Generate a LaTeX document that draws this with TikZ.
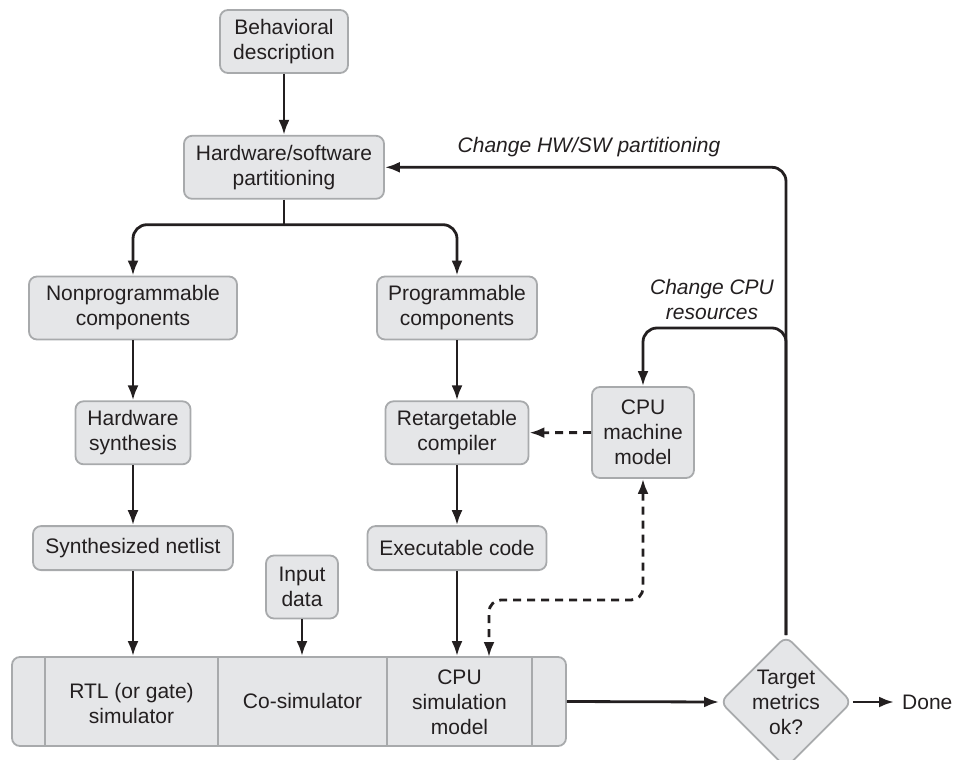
\documentclass[tikz,border=0pt]{standalone}
\usepackage{fontspec}
\setmainfont{Liberation Sans}
\usetikzlibrary{arrows.meta,positioning,shapes.geometric}
\definecolor{boxgray}{RGB}{229,230,232}
\definecolor{edgegray}{RGB}{168,170,172}
\definecolor{inkdark}{RGB}{35,31,32}
\tikzset{
  >={Latex[length=15pt,width=11pt]},
  box/.style={
    rectangle,
    rounded corners=8pt,
    draw=edgegray,
    fill=boxgray,
    line width=1.8pt,
    align=center,
    inner sep=2pt,
    minimum height=63pt,
    text=inkdark,
    font=\fontsize{21}{25}\selectfont
  },
  decision/.style={
    diamond,
    aspect=1,
    rounded corners=8pt,
    draw=edgegray,
    fill=boxgray,
    line width=1.8pt,
    align=center,
    inner sep=-5pt,
    minimum width=132pt,
    minimum height=132pt,
    text=inkdark,
    font=\fontsize{21}{25}\selectfont
  },
  cell/.style={
    align=center,
    text=inkdark,
    font=\fontsize{21}{25}\selectfont
  },
  note/.style={
    align=center,
    text=inkdark,
    font=\fontsize{21}{25}\selectfont\itshape
  },
  divider/.style={draw=edgegray, line width=1.8pt},
  wire/.style={line width=2.8pt, draw=inkdark},
  arrow/.style={wire, ->},
  dasharrow/.style={arrow, dash pattern=on 8pt off 6pt}
}

\begin{document}
\begin{tikzpicture}[x=1pt, y=-1pt, node distance=60pt]
  \clip (0,0) rectangle (961,760);

  % partitioning
  \node[box, minimum width=128pt] (behav) at (284,41.5) {Behavioral\\description};
  \node[box, minimum width=200pt, below=61pt of behav] (hwsw) {Hardware/software\\partitioning};

  % hardware side
  \node[box, minimum width=208pt] (nonprog) at (133,308) {Nonprogrammable\\components};
  \node[box, minimum width=115pt, below=of nonprog] (hwsyn) {Hardware\\synthesis};
  \node[box, minimum width=200pt, minimum height=44pt, below=of hwsyn] (netlist) {Synthesized netlist};

  % software side
  \node[box, minimum width=160pt] (prog) at (457,308) {Programmable\\components};
  \node[box, minimum width=143pt, below=of prog] (retarget) {Retargetable\\compiler};
  \node[box, minimum width=179pt, minimum height=44pt, below=of retarget] (exec) {Executable code};
  \node[box, minimum width=102pt, minimum height=91pt] (cpumach) at (643,432.5) {CPU\\machine\\model};
  \node[box, minimum width=72pt] (input) at (302,587) {Input\\data};

  % co-simulation strip
  \node[box, minimum width=554pt, minimum height=89pt] (cosim) at (289,701.5) {};
  \foreach \xd in {45,218,387,532}
    \draw[divider] (\xd,657) -- (\xd,746);
  \node[cell] (rtl) at (131.5,703) {RTL (or gate)\\simulator};
  \node[cell] (cosimtxt) at (302.5,701) {Co-simulator};
  \node[cell] (cpusim) at (459.5,702) {CPU\\simulation\\model};

  \node[decision] (target) at (786,702) {Target\\metrics\\ok?};
  \node[cell, anchor=west, inner xsep=8pt] (done) at (894,702) {Done};

  \coordinate (split) at ([yshift=-25pt]hwsw.south);
  \coordinate (simin) at (489,657);
  \coordinate (dashbend) at (643,600);
  \coordinate (cpuloop) at (786,328);

  \draw[arrow] (behav) -- (hwsw);
  \draw[wire] (hwsw.south) -- (split);
  \draw[arrow, rounded corners=14pt] (split) -| (nonprog.north);
  \draw[arrow, rounded corners=14pt] (split) -| (prog.north);
  \draw[arrow] (nonprog) -- (hwsyn);
  \draw[arrow] (hwsyn) -- (netlist);
  \draw[arrow] (netlist) -- (netlist |- cosim.north);
  \draw[arrow] (prog) -- (retarget);
  \draw[arrow] (retarget) -- (exec);
  \draw[arrow] (exec) -- (exec |- cosim.north);
  \draw[arrow] (input) -- (input |- cosim.north);
  \draw[dasharrow] (cpumach) -- (retarget);
  \draw[dasharrow, <->, rounded corners=12pt] (cpumach.south) -- (dashbend) -| (simin);
  \draw[arrow] (cosim.east) -- (target.west);
  \draw[arrow] (target.east) -- (done.west);

  % feedback
  \draw[arrow, rounded corners=14pt] (target.north) -- (target.north |- hwsw.east) -- (hwsw.east);
  \draw[arrow, rounded corners=14pt] (target.north) -- (cpuloop) -| (cpumach.north);
  \node[note] (hwswnote) at (589,147) {Change HW/SW partitioning};
  \node[note] (cpunote) at (712,299) {Change CPU\\resources};
\end{tikzpicture}
\end{document}
